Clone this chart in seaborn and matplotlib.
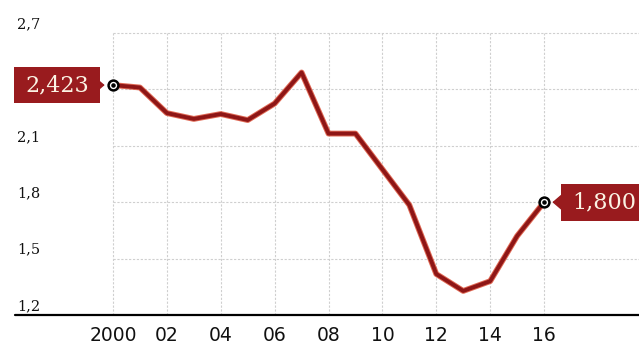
import matplotlib
matplotlib.use("Agg")
import matplotlib.pyplot as plt
from matplotlib.path import Path
import seaborn as sns
import pandas as pd

# Series
years = list(range(2000, 2017))
values = [2.423, 2.41, 2.274, 2.243, 2.269, 2.237, 2.325, 2.49, 2.165, 2.165,
          1.975, 1.785, 1.418, 1.328, 1.38, 1.62, 1.800]

# Axis ticks (the 2,4 level has a gridline; its label sits under the start callout)
grid_levels = [1.5, 1.8, 2.1, 2.4, 2.7]
y_ticks = [1.2, 1.5, 1.8, 2.1, 2.7]
y_tick_labels = ["1,2", "1,5", "1,8", "2,1", "2,7"]
x_ticks = [2000, 2002, 2004, 2006, 2008, 2010, 2012, 2014, 2016]
x_tick_labels = ["2000", "02", "04", "06", "08", "10", "12", "14", "16"]

# End-point callouts
start_label = "2,423"
end_label = "1,800"

RED = "#991b1e"
CREAM = "#fbf3e4"


def wide_box(x0, y0, width, height, mutation_size):
    """Rectangular label box with more side padding than top/bottom padding."""
    px, py = 0.5 * mutation_size, 0.33 * mutation_size
    x0, y0 = x0 - px, y0 - py
    x1, y1 = x0 + width + 2 * px, y0 + height + 2 * py
    return Path([(x0, y0), (x1, y0), (x1, y1), (x0, y1), (x0, y0)], closed=True)


sns.set_style("white")
W, H = 639, 344
fig = plt.figure(figsize=(W / 100, H / 100), dpi=100)
bottom_px = 315
ax = fig.add_axes([0, (H - bottom_px) / H, 1, bottom_px / H])
ax.set_xlim(2000 - 113 / 26.94, 2000 + (W - 113) / 26.94)
ax.set_ylim(1.2, 1.2 + bottom_px / 188.0)
for s in ax.spines.values():
    s.set_visible(False)

# Dotted grid
x_left, x_right = ax.get_xlim()
ax.hlines(grid_levels, 2000, x_right, colors="#cfcfcf", lw=0.8,
          linestyles=(0, (2, 1.5)), zorder=1)
ax.vlines(x_ticks, 1.2, 2.7, colors="#cfcfcf", lw=0.8,
          linestyles=(0, (2, 1.5)), zorder=1)

# Baseline
ax.axhline(1.2, xmin=15 / W, xmax=1, color="black", lw=1.6, clip_on=False, zorder=3)

# Line
df = pd.DataFrame({"year": years, "value": values})
sns.lineplot(data=df, x="year", y="value", color="#d8432a", lw=4.2, ax=ax,
             zorder=4, alpha=0.8)
sns.lineplot(data=df, x="year", y="value", color="#8e1616", lw=2.8, ax=ax, zorder=5)

# X ticks
ax.set_xticks(x_ticks)
ax.set_xticklabels(x_tick_labels, fontsize=13.5, family="DejaVu Sans", color="#111111")
ax.tick_params(axis="x", length=0, pad=8)
ax.set_yticks([])
ax.set_xlabel("")
ax.set_ylabel("")

# Y tick labels, sitting just above their gridlines at the left
for v, lab in zip(y_ticks, y_tick_labels):
    ax.annotate(lab, xy=(17 / W, v), xycoords=("axes fraction", "data"),
                xytext=(0, 5), textcoords="offset pixels", ha="left", va="baseline",
                fontsize=10.5, family="DejaVu Serif", color="#111111", zorder=2,
                annotation_clip=False)

# End markers
for x, y in [(years[0], values[0]), (years[-1], values[-1])]:
    ax.scatter([x], [y], s=50, facecolor="white", edgecolor="black", linewidth=1.8, zorder=7)
    ax.scatter([x], [y], s=5, color="black", zorder=8)

# Callouts
box = dict(boxstyle=wide_box, fc=RED, ec="none")
arrow = dict(arrowstyle="-|>,head_length=0.35,head_width=0.3", color=RED, lw=1,
             shrinkA=0, shrinkB=6)
ax.annotate(start_label, xy=(years[0], values[0]), xytext=(-24, 0),
            textcoords="offset pixels", ha="right", va="center",
            fontsize=16, family="DejaVu Serif", color=CREAM, bbox=box,
            arrowprops=arrow, zorder=9)
ax.annotate(end_label, xy=(years[-1], values[-1]), xytext=(28, 0),
            textcoords="offset pixels", ha="left", va="center",
            fontsize=16, family="DejaVu Serif", color=CREAM, bbox=box,
            arrowprops=arrow, zorder=9)

fig.savefig("out.png", dpi=100)
